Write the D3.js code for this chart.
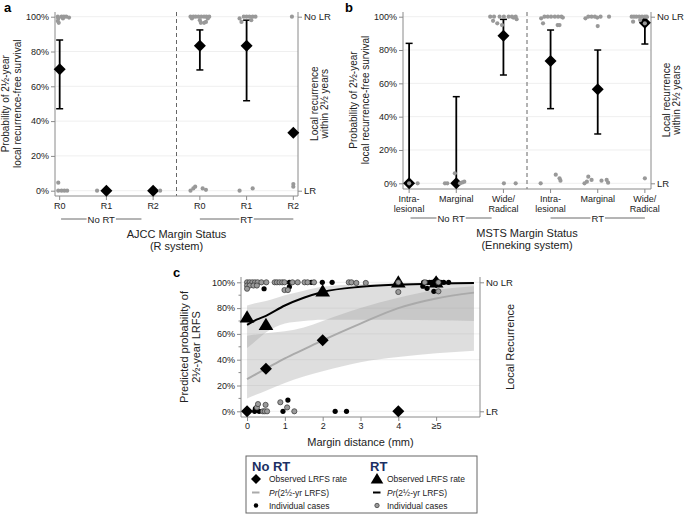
<!DOCTYPE html>
<html><head><meta charset="utf-8">
<script src="https://cdn.jsdelivr.net/npm/d3@7"></script>
<style>body{margin:0;background:#fff}svg{display:block;font-family:"Liberation Sans",Arial,sans-serif}</style>
</head><body><svg id="c" width="685" height="514"></svg>
<script>
// ---------- Panel a data (AJCC R system) ----------
const aCats = [["R0"],["R1"],["R2"],["R0"],["R1"],["R2"]];
const aEst = [69.8, 0, 0, 83.3, 83.3, 33.3];
const aLo  = [47.1, null, null, 69.4, 51.7, null];
const aHi  = [86.6, null, null, 92.4, 98.0, null];
// individual cases: [category index, jitter (category units), value %]
const aDots = [
 [0,-0.04,100],[0,0.04,100],[0,0.09,100],[0,0.14,100],[0,0.2,99.5],[0,-0.03,99],[0,-0.04,97.5],[0,-0.02,96.5],[0,0.07,99],
 [0,-0.03,4.6],[0,-0.03,0],[0,0.04,0],[0,0.1,0],[0,0.16,0],
 [1,-0.2,0],[2,0.15,0],
 [3,-0.2,100],[3,-0.14,100],[3,-0.09,100],[3,-0.03,100],[3,0.03,100],[3,0.09,100],[3,0.14,100],[3,0.2,100],
 [3,-0.17,99],[3,0.0,98],[3,0.02,96.5],[3,0.09,96.5],[3,0.13,97],[3,0.17,99],
 [3,-0.2,0],[3,-0.14,1.3],[3,-0.1,2.3],[3,0.06,1.3],[3,0.13,0.5],
 [4,-0.15,99],[4,-0.06,100],[4,0.0,100],[4,0.06,100],[4,0.13,100],[4,0.19,100],[4,-0.11,97],[4,0.1,98],
 [4,-0.15,0],[4,0.13,1.3],
 [5,-0.03,100],[5,0.0,3.8],[5,0.0,2.3]
];
// ---------- Panel b data (MSTS Enneking system) ----------
const bCats = [["Intra-","lesional"],["Marginal"],["Wide/","Radical"],["Intra-","lesional"],["Marginal"],["Wide/","Radical"]];
const bEst = [0, 0, 88.6, 73.4, 56.4, 96.4];
const bLo  = [0, 0, 65.0, 44.8, 29.6, 83.6];
const bHi  = [84, 52, 98.4, 92.0, 80.0, 99.5];
const bDots = [
 [0,0.0,0],[0,0.18,0],
 [1,-0.24,0],[1,-0.19,0],[1,-0.03,6],[1,0.08,0],[1,0.13,0.5],[1,0.17,1],
 [2,-0.28,100],[2,-0.2,100],[2,-0.08,100],[2,0.01,100],[2,0.11,100],[2,0.21,99.5],[2,0.18,100],[2,0.26,100],[2,0.28,98.5],
 [2,-0.22,97.5],[2,-0.13,96],[2,-0.03,95],[2,0.01,0],[2,0.26,0],
 [3,-0.2,99],[3,-0.13,100],[3,-0.06,100],[3,0.01,100],[3,0.09,100],[3,0.16,100],[3,0.23,100],[3,0.26,99.5],
 [3,-0.16,96],[3,0.15,95],[3,0.19,95],[3,-0.21,0],[3,0.11,5.2],[3,0.19,3],[3,0.21,1.6],
 [4,-0.26,99],[4,-0.2,100],[4,-0.13,100],[4,-0.06,100],[4,-0.01,99.5],[4,0.06,100],[4,0.24,100],[4,0.0,94.4],
 [4,-0.28,0],[4,-0.23,1],[4,-0.2,4],[4,-0.13,2],[4,0.08,1.6],[4,0.19,2],[4,0.22,0.4],
 [5,-0.28,100],[5,-0.23,100],[5,-0.18,100],[5,-0.12,100],[5,-0.06,100],[5,0.0,100],[5,0.04,100],
 [5,-0.25,97],[5,-0.1,98],[5,0.0,96],[5,0.0,3]
];
// ---------- Panel c data (margin distance) ----------
const cX       = [0, 0.25, 0.5, 1, 1.5, 2, 3, 4, 5, 6];
const rtFit    = [67, 71, 74, 82, 88, 92.5, 96.5, 98.2, 99, 99.4];
const rtLo     = [49, 55, 61, 68, 70, 71, 71, 71, 70.5, 70];
const rtHi     = [82, 84, 85.5, 90, 93.5, 96.5, 98.5, 99.3, 99.6, 99.8];
const nortFit  = [25, 29, 33, 41, 48, 55, 68, 80, 87.5, 92];
const nortLo   = [10, 13, 16, 22, 27, 31, 38, 42, 45, 47];
const nortHi   = [58.5, 59.5, 60.5, 62, 65, 70, 80, 88, 94, 97];
const rtObsX   = [0, 0.5, 2, 4, 5];
const rtObsY   = [73, 67, 93, 100, 100];
const nortObsX = [0, 0.5, 2, 4, 5];
const nortObsY = [0, 33, 55, 0, 100];
const cTickVals   = [0, 1, 2, 3, 4, 5];
const cTickLabels = ["0", "1", "2", "3", "4", "\u22655"];
const cRTDots = [ // [margin mm, value %]
 [0,100],[0.07,100],[0.14,100],[0.21,100],[0.28,100],[0.38,100],[0.51,100],[0.73,100],[0.79,100],[0.86,100],[0.93,100],[0.99,100],
 [1.2,100],[1.34,100],[1.52,100],[1.6,100],[1.77,100],[2.69,100],[2.76,100],[2.89,99.5],[3.14,99.5],
 [0,97.5],[0.07,97.5],[0.17,97.5],[0.26,97.5],[0,95],[0.99,94],[1.08,94],
 [4.0,100],[4.0,92.5],[4.7,100],[5.06,100],[5.06,93],
 [0.26,3],[0.29,5.6],[0.42,0],[0.47,0],[0.49,5],[0.53,0],[0.88,7],[1.06,3],[1.25,0]
];
const cNoRTDots = [
 [1.12,100],[1.7,100],[1.99,100],[2.25,100],[1.12,96.5],[0.45,95],
 [4.67,100],[4.74,100],[4.83,100],[4.89,100],[4.96,100],[5.03,100],[5.12,100],[5.2,100],[5.33,100],
 [4.65,97],[4.76,95.3],[4.94,93],
 [0.2,0],[0.32,0],[0.95,0],[2.33,0],[2.63,0],[0.22,2],[1.08,8.7]
];

const svg = d3.select("#c");
const FONT = '"Liberation Sans",Arial,sans-serif';
const AX = "#8a8a8a";
const diamond = r => `M0,${-r}L${r},0L0,${r}L${-r},0Z`;
const triangle = r => `M0,${-r}L${r*1.05},${r*0.75}L${-r*1.05},${r*0.75}Z`;

function rotText(x, y, lines, size, lh){
  const t = svg.append("text").attr("transform",`translate(${x},${y}) rotate(-90)`)
    .attr("text-anchor","middle").attr("font-size",size).attr("fill","#222");
  lines.forEach((l,i)=>t.append("tspan").attr("x",0).attr("dy", i===0 ? 0 : lh).text(l));
}

function groupLine(x1, x2, y, label){
  const m=(x1+x2)/2;
  const t = svg.append("text").attr("x",m).attr("y",y+3.5).attr("text-anchor","middle")
    .attr("font-size",9.5).attr("fill","#222").text(label);
  const w = t.node().getComputedTextLength()/2 + 1;
  svg.append("line").attr("x1",x1).attr("x2",m-w).attr("y1",y).attr("y2",y).attr("stroke","#444").attr("stroke-width",0.8);
  svg.append("line").attr("x1",m+w).attr("x2",x2).attr("y1",y).attr("y2",y).attr("stroke","#444").attr("stroke-width",0.8);
}

function catPanel(o){
  const x = d3.scaleLinear().domain(o.xd).range([o.x0,o.x1]);
  const y = d3.scaleLinear().domain([0,100]).range([o.y0,o.y100]);
  const g = svg.append("g");
  d3.range(0,101,20).forEach(v=>{
    g.append("line").attr("x1",o.x0).attr("x2",o.x1).attr("y1",y(v)).attr("y2",y(v)).attr("stroke","#efefef").attr("stroke-width",1);
  });
  g.append("line").attr("x1",x(2.5)).attr("x2",x(2.5)).attr("y1",o.yTop).attr("y2",o.yB)
    .attr("stroke","#666").attr("stroke-dasharray","4,3").attr("stroke-width",1);
  const la = g.append("g").attr("transform",`translate(${o.x0},0)`)
    .call(d3.axisLeft(y).tickValues(d3.range(0,101,20)).tickFormat(d=>d+"%").tickSize(4).tickPadding(2));
  la.select(".domain").remove();
  la.append("line").attr("x1",0).attr("x2",0).attr("y1",o.yTop).attr("y2",o.yB).attr("stroke",AX);
  la.selectAll(".tick line").attr("stroke",AX);
  la.selectAll("text").attr("font-size",9).attr("font-family",FONT).attr("fill","#222");
  const ra = g.append("g").attr("transform",`translate(${o.x1},0)`)
    .call(d3.axisRight(y).tickValues([0,100]).tickFormat(d=>d===100?"No LR":"LR").tickSize(4).tickPadding(2));
  ra.select(".domain").remove();
  ra.append("line").attr("x1",0).attr("x2",0).attr("y1",o.yTop).attr("y2",o.yB).attr("stroke",AX);
  ra.selectAll(".tick line").attr("stroke",AX);
  ra.selectAll("text").attr("font-size",9.5).attr("font-family",FONT).attr("fill","#222");
  g.append("line").attr("x1",o.x0).attr("x2",o.x1).attr("y1",o.yB).attr("y2",o.yB).attr("stroke",AX);
  o.cats.forEach((c,i)=>{
    g.append("line").attr("x1",x(i)).attr("x2",x(i)).attr("y1",o.yB).attr("y2",o.yB+4).attr("stroke",AX);
    const t = g.append("text").attr("x",x(i)).attr("y",o.yB+13).attr("text-anchor","middle").attr("font-size",9).attr("fill","#222");
    c.forEach((l,k)=>t.append("tspan").attr("x",x(i)).attr("dy",k?10:0).text(l));
  });
  o.est.forEach((e,i)=>{
    if(o.lo[i]===null) return;
    g.append("line").attr("x1",x(i)).attr("x2",x(i)).attr("y1",y(o.lo[i])).attr("y2",y(o.hi[i])).attr("stroke","#000").attr("stroke-width",1.8);
    [o.lo[i],o.hi[i]].forEach(v=>g.append("line").attr("x1",x(i)-3.5).attr("x2",x(i)+3.5).attr("y1",y(v)).attr("y2",y(v)).attr("stroke","#000").attr("stroke-width",1.5));
  });
  o.est.forEach((e,i)=>g.append("path").attr("d",diamond(6)).attr("transform",`translate(${x(i)},${y(e)})`).attr("fill","#000"));
  o.dots.forEach(d=>g.append("circle").attr("cx",x(d[0]+d[1])).attr("cy",y(d[2])).attr("r",2.1).attr("fill","#999"));
  groupLine(x(0.03), x(1.75), o.groupY, "No RT");
  groupLine(x(3), x(5), o.groupY, "RT");
  const tt = svg.append("text").attr("x",x(2.5)).attr("y",o.groupY+19).attr("text-anchor","middle").attr("font-size",11).attr("fill","#222");
  tt.append("tspan").attr("x",x(2.5)).text(o.title[0]);
  tt.append("tspan").attr("x",x(2.5)).attr("dy",11.5).text(o.title[1]);
  rotText(o.ylabX, (o.y0+o.y100)/2, ["Probability of 2\u00bd-year","local recurrence-free survival"], 10, 11.5);
  rotText(o.rlabX, (o.y0+o.y100)/2, ["Local recurrence","within 2\u00bd years"], 10, 10);
  svg.append("text").attr("x",o.lab[1]).attr("y",o.lab[2]).attr("font-size",13).attr("font-weight","bold").attr("fill","#000").text(o.lab[0]);
}

catPanel({cats:aCats, est:aEst, lo:aLo, hi:aHi, dots:aDots, xd:[-0.1,5.1], x0:55, x1:298,
  y0:190.7, y100:16.7, yTop:12, yB:196, groupY:219, title:["AJCC Margin Status","(R system)"],
  ylabX:9, rlabX:318, lab:["a",4,12]});
catPanel({cats:bCats, est:bEst, lo:bLo, hi:bHi, dots:bDots, xd:[-0.13,5.13], x0:403, x1:651,
  y0:183.3, y100:16.7, yTop:12, yB:189, groupY:218, title:["MSTS Margin Status","(Enneking system)"],
  ylabX:357, rlabX:670, lab:["b",345,12]});

// ---------- Panel c ----------
(function(){
  const x0=241, x1=480, yTop=277, yB=417;
  const x = d3.scaleLinear().domain([-0.16,6.16]).range([x0,x1]);
  const y = d3.scaleLinear().domain([0,100]).range([411.3,282.3]);
  const g = svg.append("g");
  d3.range(0,101,20).forEach(v=>g.append("line").attr("x1",x0).attr("x2",x1).attr("y1",y(v)).attr("y2",y(v)).attr("stroke","#efefef"));
  const idx = d3.range(cX.length);
  const area = (lo,hi)=>d3.area().x(i=>x(cX[i])).y0(i=>y(lo[i])).y1(i=>y(hi[i])).curve(d3.curveMonotoneX)(idx);
  const line = (v)=>d3.line().x(i=>x(cX[i])).y(i=>y(v[i])).curve(d3.curveMonotoneX)(idx);
  g.append("path").attr("d",area(nortLo,nortHi)).attr("fill","#9a9a9a").attr("fill-opacity",0.33);
  g.append("path").attr("d",area(rtLo,rtHi)).attr("fill","#9a9a9a").attr("fill-opacity",0.33);
  g.append("path").attr("d",line(nortFit)).attr("fill","none").attr("stroke","#aaa").attr("stroke-width",2);
  g.append("path").attr("d",line(rtFit)).attr("fill","none").attr("stroke","#000").attr("stroke-width",2);
  const la = g.append("g").attr("transform",`translate(${x0},0)`)
    .call(d3.axisLeft(y).tickValues(d3.range(0,101,20)).tickFormat(d=>d+"%").tickSize(4).tickPadding(2));
  la.select(".domain").remove();
  la.append("line").attr("y1",yTop).attr("y2",yB).attr("stroke",AX);
  la.selectAll(".tick line").attr("stroke",AX);
  la.selectAll("text").attr("font-size",9).attr("font-family",FONT).attr("fill","#222");
  d3.range(10,100,20).forEach(v=>la.append("line").attr("x1",0).attr("x2",-2.5).attr("y1",y(v)).attr("y2",y(v)).attr("stroke",AX));
  const ra = g.append("g").attr("transform",`translate(${x1},0)`)
    .call(d3.axisRight(y).tickValues([0,100]).tickFormat(d=>d===100?"No LR":"LR").tickSize(4).tickPadding(2));
  ra.select(".domain").remove();
  ra.append("line").attr("y1",yTop).attr("y2",yB).attr("stroke",AX);
  ra.selectAll(".tick line").attr("stroke",AX);
  ra.selectAll("text").attr("font-size",9.5).attr("font-family",FONT).attr("fill","#222");
  const ba = g.append("g").attr("transform",`translate(0,${yB})`)
    .call(d3.axisBottom(x).tickValues(cTickVals).tickFormat((d,i)=>cTickLabels[i]).tickSize(4).tickPadding(2));
  ba.select(".domain").remove();
  ba.append("line").attr("x1",x0).attr("x2",x1).attr("stroke",AX);
  ba.selectAll(".tick line").attr("stroke",AX);
  ba.selectAll("text").attr("font-size",9).attr("font-family",FONT).attr("fill","#222");
  nortObsX.forEach((v,i)=>g.append("path").attr("d",diamond(6)).attr("transform",`translate(${x(v)},${y(nortObsY[i])})`).attr("fill","#000"));
  rtObsX.forEach((v,i)=>g.append("path").attr("d",triangle(7)).attr("transform",`translate(${x(v)},${y(rtObsY[i])})`).attr("fill","#000"));
  cNoRTDots.forEach(d=>g.append("circle").attr("cx",x(d[0])).attr("cy",y(d[1])).attr("r",2.6).attr("fill","#000"));
  cRTDots.forEach(d=>g.append("circle").attr("cx",x(d[0])).attr("cy",y(d[1])).attr("r",2.6).attr("fill","#9a9a9a").attr("stroke","#333").attr("stroke-width",0.7));
  svg.append("text").attr("x",(x0+x1)/2).attr("y",446).attr("text-anchor","middle").attr("font-size",11).attr("fill","#222").text("Margin distance (mm)");
  rotText(188, 347, ["Predicted probability of","2\u00bd-year LRFS"], 11, 12);
  rotText(514, 347, ["Local Recurrence"], 11, 12);
  svg.append("text").attr("x",173).attr("y",277).attr("font-size",13).attr("font-weight","bold").attr("fill","#000").text("c");
  const L = svg.append("g");
  L.append("rect").attr("x",246).attr("y",456).attr("width",231).attr("height",57).attr("fill","#fff").attr("stroke","#666").attr("stroke-width",1);
  const navy="#1b2f63";
  L.append("text").attr("x",252).attr("y",471).attr("font-size",13).attr("font-weight","bold").attr("fill",navy).text("No RT");
  L.append("text").attr("x",370).attr("y",471).attr("font-size",13).attr("font-weight","bold").attr("fill",navy).text("RT");
  const rows=[479,492.5,505.5];
  const lt=(xx,yy,parts)=>{const t=L.append("text").attr("x",xx).attr("y",yy+3).attr("font-size",8.5).attr("fill","#222");
    parts.forEach(p=>t.append("tspan").attr("font-style",p[1]?"italic":null).text(p[0]));};
  L.append("path").attr("d",diamond(5)).attr("transform",`translate(256,${rows[0]})`).attr("fill","#000");
  L.append("path").attr("d",triangle(6)).attr("transform",`translate(377,${rows[0]})`).attr("fill","#000");
  L.append("line").attr("x1",252).attr("x2",259.5).attr("y1",rows[1]).attr("y2",rows[1]).attr("stroke","#aaa").attr("stroke-width",2);
  L.append("line").attr("x1",373).attr("x2",380.5).attr("y1",rows[1]).attr("y2",rows[1]).attr("stroke","#000").attr("stroke-width",2);
  L.append("circle").attr("cx",256).attr("cy",rows[2]).attr("r",2.2).attr("fill","#000");
  L.append("circle").attr("cx",377).attr("cy",rows[2]).attr("r",2.2).attr("fill","#9a9a9a").attr("stroke","#333").attr("stroke-width",0.7);
  lt(269,rows[0],[["Observed LRFS rate"]]); lt(387,rows[0],[["Observed LRFS rate"]]);
  lt(269,rows[1],[["Pr",1],["(2\u00bd-yr LRFS)"]]); lt(387,rows[1],[["Pr",1],["(2\u00bd-yr LRFS)"]]);
  lt(269,rows[2],[["Individual cases"]]); lt(387,rows[2],[["Individual cases"]]);
})();
</script></body></html>
